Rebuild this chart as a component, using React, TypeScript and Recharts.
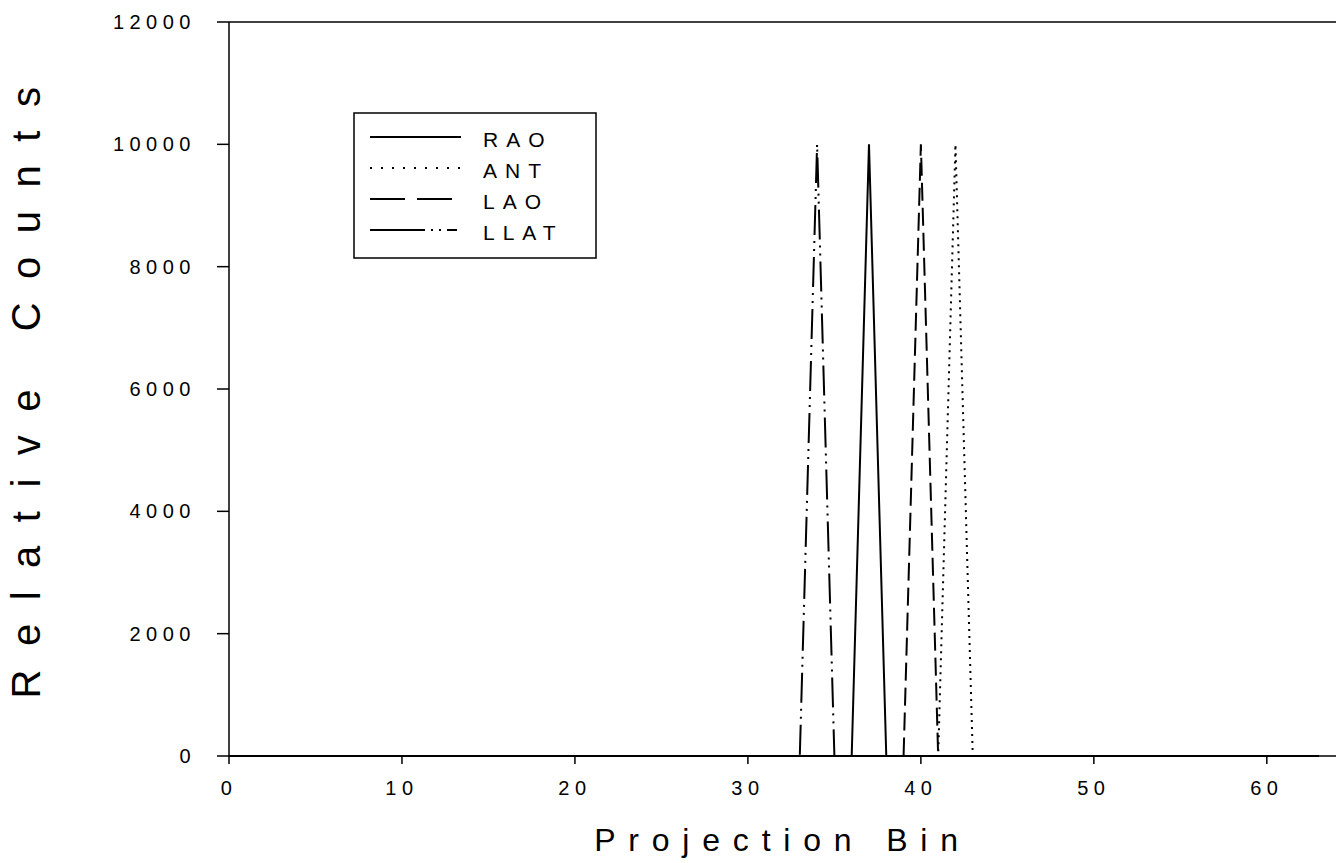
import React from "react";
import { LineChart, Line, XAxis, YAxis, ReferenceLine, Label } from "recharts";

const bins = [
  0, 1, 2, 3, 4, 5, 6, 7, 8, 9, 10, 11, 12, 13, 14, 15, 16, 17, 18, 19, 20, 21, 22, 23, 24, 25, 26, 27, 28, 29, 30, 31,
  32, 33, 34, 35, 36, 37, 38, 39, 40, 41, 42, 43, 44, 45, 46, 47, 48, 49, 50, 51, 52, 53, 54, 55, 56, 57, 58, 59, 60, 61, 62, 63,
];
const rao = [
  0, 0, 0, 0, 0, 0, 0, 0, 0, 0, 0, 0, 0, 0, 0, 0, 0, 0, 0, 0, 0, 0, 0, 0, 0, 0, 0, 0, 0, 0, 0, 0,
  0, 0, 0, 0, 0, 10000, 0, 0, 0, 0, 0, 0, 0, 0, 0, 0, 0, 0, 0, 0, 0, 0, 0, 0, 0, 0, 0, 0, 0, 0, 0, 0,
];
const ant = [
  0, 0, 0, 0, 0, 0, 0, 0, 0, 0, 0, 0, 0, 0, 0, 0, 0, 0, 0, 0, 0, 0, 0, 0, 0, 0, 0, 0, 0, 0, 0, 0,
  0, 0, 0, 0, 0, 0, 0, 0, 0, 0, 10000, 0, 0, 0, 0, 0, 0, 0, 0, 0, 0, 0, 0, 0, 0, 0, 0, 0, 0, 0, 0, 0,
];
const lao = [
  0, 0, 0, 0, 0, 0, 0, 0, 0, 0, 0, 0, 0, 0, 0, 0, 0, 0, 0, 0, 0, 0, 0, 0, 0, 0, 0, 0, 0, 0, 0, 0,
  0, 0, 0, 0, 0, 0, 0, 0, 10000, 0, 0, 0, 0, 0, 0, 0, 0, 0, 0, 0, 0, 0, 0, 0, 0, 0, 0, 0, 0, 0, 0, 0,
];
const llat = [
  0, 0, 0, 0, 0, 0, 0, 0, 0, 0, 0, 0, 0, 0, 0, 0, 0, 0, 0, 0, 0, 0, 0, 0, 0, 0, 0, 0, 0, 0, 0, 0,
  0, 0, 10000, 0, 0, 0, 0, 0, 0, 0, 0, 0, 0, 0, 0, 0, 0, 0, 0, 0, 0, 0, 0, 0, 0, 0, 0, 0, 0, 0, 0, 0,
];
const xTicks = [0, 10, 20, 30, 40, 50, 60];
const yTicks = [0, 2000, 4000, 6000, 8000, 10000, 12000];

const seriesNames = ["RAO", "ANT", "LAO", "LLAT"];
const seriesKeys = ["rao", "ant", "lao", "llat"];
const dashes = ["", "2 5", "18 7", "30 6 2 6 2 6"];
const legendDashes = ["", "2 9", "35 12", "55 6 2 6 2 6 10"];

const data = bins.map((b, i) => ({ bin: b, rao: rao[i], ant: ant[i], lao: lao[i], llat: llat[i] }));

const FONT = "'Liberation Sans', Arial, sans-serif";

const LegendBox = () => (
  <svg width={244} height={147} style={{ display: "block" }}>
    <rect x={1} y={1} width={242} height={145} fill="white" stroke="#000" strokeWidth={1.5} />
    {seriesNames.map((n, i) => {
      const y = 25 + i * 31;
      return (
        <g key={n}>
          <line x1={17} x2={108} y1={y} y2={y} stroke="#000" strokeWidth={2} strokeDasharray={legendDashes[i]} />
          <text x={130} y={y + 10} fontFamily={FONT} fontSize={21} letterSpacing={8} fill="#000">
            {n}
          </text>
        </g>
      );
    })}
  </svg>
);

export default function App() {
  return (
    <div style={{ position: "absolute", left: 0, top: 0, width: 1336, height: 863, background: "#fff" }}>
      <LineChart width={1336} height={863} data={data} margin={{ top: 22, right: 0, left: 0, bottom: 0 }}>
        <XAxis
          dataKey="bin"
          type="number"
          domain={[0, 64]}
          ticks={xTicks}
          height={107}
          stroke="#000"
          strokeWidth={1.5}
          tickSize={8}
          tickMargin={17}
          tick={{ fill: "#000", fontSize: 20, fontFamily: FONT, letterSpacing: 5.5 }}
        >
          <Label
            value="Projection Bin"
            position="insideBottom"
            offset={12}
            style={{ fill: "#000", fontSize: 32, fontFamily: FONT, letterSpacing: 12.8 }}
          />
        </XAxis>
        <YAxis
          type="number"
          domain={[0, 12000]}
          ticks={yTicks}
          width={229}
          stroke="#000"
          strokeWidth={1.5}
          tickSize={12}
          tickMargin={21}
          tick={{ fill: "#000", fontSize: 20, fontFamily: FONT, letterSpacing: 5.5 }}
        >
          <Label
            value="Relative Counts"
            angle={-90}
            position="insideLeft"
            offset={0}
            dx={26}
            dy={-8}
            style={{ fill: "#000", fontSize: 40, fontFamily: FONT, letterSpacing: 23.5, textAnchor: "middle" }}
          />
        </YAxis>
        <ReferenceLine y={12000} stroke="#000" strokeWidth={1.5} />
        {seriesKeys.map((k, i) => (
          <Line
            key={k}
            dataKey={k}
            name={seriesNames[i]}
            type="linear"
            stroke="#000"
            strokeWidth={2}
            strokeDasharray={dashes[i] || undefined}
            dot={false}
            activeDot={false}
            isAnimationActive={false}
          />
        ))}
      </LineChart>
      <div style={{ position: "absolute", left: 353, top: 112 }}>
        <LegendBox />
      </div>
    </div>
  );
}
